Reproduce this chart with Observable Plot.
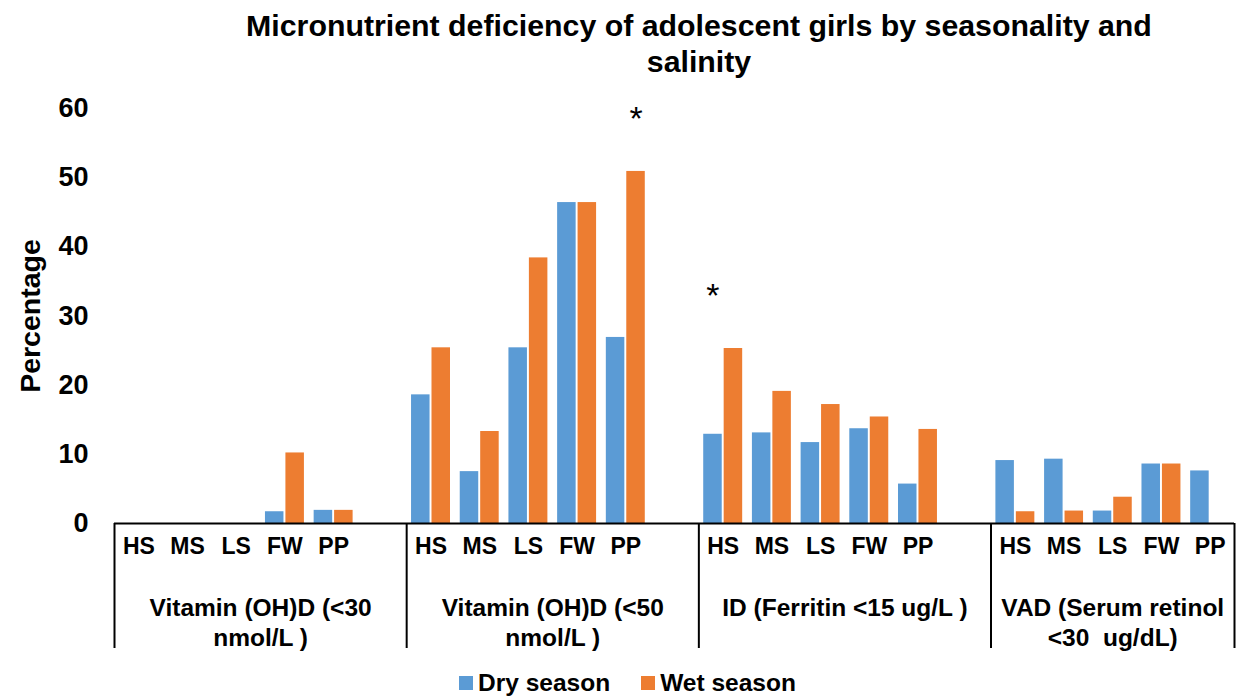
<!DOCTYPE html>
<html>
<head>
<meta charset="utf-8">
<script src="https://cdn.jsdelivr.net/npm/d3@7"></script>
<script src="https://cdn.jsdelivr.net/npm/@observablehq/plot@0.6"></script>
<style>
  html, body { margin: 0; padding: 0; background: #fff; overflow: hidden; }
  body { width: 1239px; height: 698px; font-family: "Liberation Sans", Arial, sans-serif; color: #000; }
  #title { box-sizing: border-box; width: 1239px; height: 80px; padding: 8px 0 0 159px; text-align: center;
           font-size: 30.3px; font-weight: bold; line-height: 36px; }
  #chart svg { display: block; }
  #legend { box-sizing: border-box; width: 1239px; padding: 1px 0 0 16px; display: flex; justify-content: center;
            align-items: center; gap: 31px; font-size: 24.5px; font-weight: bold; line-height: 28px; }
  .item { display: flex; align-items: center; gap: 5px; }
  .sw { width: 14px; height: 14px; display: inline-block; }
</style>
</head>
<body>
<div id="title">Micronutrient deficiency of adolescent girls by seasonality and<br>salinity</div>
<div id="chart"></div>
<div id="legend"></div>
<script>
// ---- data ----
const groupLabels = [
  "Vitamin (OH)D (<30\nnmol/L )",
  "Vitamin (OH)D (<50\nnmol/L )",
  "ID (Ferritin <15 ug/L )",
  "VAD (Serum retinol\n<30  ug/dL)"
];
const sites = ["HS", "MS", "LS", "FW", "PP"];
const seasons = ["Dry season", "Wet season"];
const seasonColors = ["#5B9BD5", "#ED7D31"];
const drySeason = [
  [0, 0, 0, 1.7, 1.9],
  [18.6, 7.5, 25.4, 46.4, 26.9],
  [12.9, 13.1, 11.7, 13.7, 5.7],
  [9.1, 9.3, 1.8, 8.6, 7.6]
];
const wetSeason = [
  [0, 0, 0, 10.2, 1.9],
  [25.4, 13.3, 38.4, 46.4, 50.9],
  [25.3, 19.1, 17.2, 15.4, 13.6],
  [1.7, 1.8, 3.8, 8.6, 0]
];
const yTicks = [0, 10, 20, 30, 40, 50, 60];
// significance markers: group index, site, season, height of marker
const starGroups = [1, 2];
const starSites = ["PP", "HS"];
const starSeasons = ["Wet season", "Dry season"];
const starHeights = [58.5, 32.9];

// ---- layout in slot units: each group has its sites plus one empty slot, except the last ----
const groupStarts = [];
let slot = 0;
groupLabels.forEach((g, gi) => {
  groupStarts.push(slot);
  slot += sites.length + (gi < groupLabels.length - 1 ? 1 : 0);
});
const totalSlots = slot;
const bounds = [...groupStarts, totalSlots];
const barSpan = {"Dry season": [0.1, 0.48], "Wet season": [0.52, 0.9]};

const rows = [];
const siteTicks = [];
groupLabels.forEach((g, gi) => {
  sites.forEach((s, si) => {
    const k = groupStarts[gi] + si;
    siteTicks.push({x: k + 0.5, site: s});
    [drySeason, wetSeason].forEach((arr, j) => {
      const season = seasons[j];
      rows.push({group: g, site: s, season, value: arr[gi][si],
                 x1: k + barSpan[season][0], x2: k + barSpan[season][1]});
    });
  });
});
const groupCenters = groupLabels.map((g, gi) => ({label: g, x: (bounds[gi] + bounds[gi + 1]) / 2}));
const stars = starGroups.map((gi, i) => {
  const k = groupStarts[gi] + sites.indexOf(starSites[i]);
  const sp = barSpan[starSeasons[i]];
  return {x: k + (sp[0] + sp[1]) / 2, y: starHeights[i]};
});

const font = "'Liberation Sans', Arial, sans-serif";
const chart = Plot.plot({
  width: 1239,
  height: 588,
  marginLeft: 114,
  marginRight: 5,
  marginTop: 28,
  marginBottom: 145,
  style: {fontFamily: font, color: "#000", background: "#fff", overflow: "visible"},
  x: {type: "linear", domain: [0, totalSlots]},
  y: {domain: [0, 60]},
  color: {domain: seasons, range: seasonColors},
  marks: [
    Plot.axisY({ticks: yTicks, tickSize: 0, tickPadding: 26, fontSize: 27, fontWeight: "bold", label: null}),
    Plot.axisX({ticks: bounds, tickSize: 125, tickFormat: () => "", strokeWidth: 2, label: null}),
    Plot.rect(rows, {x1: "x1", x2: "x2", y1: 0, y2: "value", fill: "season"}),
    Plot.ruleY([0], {strokeWidth: 2}),
    Plot.text(siteTicks, {x: "x", text: "site", frameAnchor: "bottom", dy: 30, fontSize: 23, fontWeight: "bold"}),
    Plot.text(groupCenters, {x: "x", text: "label", frameAnchor: "bottom", lineAnchor: "top", dy: 72,
                             fontSize: 24.5, fontWeight: "bold", lineHeight: 1.2}),
    Plot.text(["Percentage"], {frameAnchor: "left", textAnchor: "middle", rotate: -90, dx: -84,
                               fontSize: 28.5, fontWeight: "bold"}),
    Plot.text(stars, {x: "x", y: "y", text: () => "*", fontSize: 34})
  ]
});
document.getElementById("chart").appendChild(chart);

const legend = document.getElementById("legend");
seasons.forEach((s, i) => {
  const item = document.createElement("span");
  item.className = "item";
  const sw = document.createElement("span");
  sw.className = "sw";
  sw.style.background = seasonColors[i];
  item.appendChild(sw);
  item.appendChild(document.createTextNode(s));
  legend.appendChild(item);
});
</script>
</body>
</html>
